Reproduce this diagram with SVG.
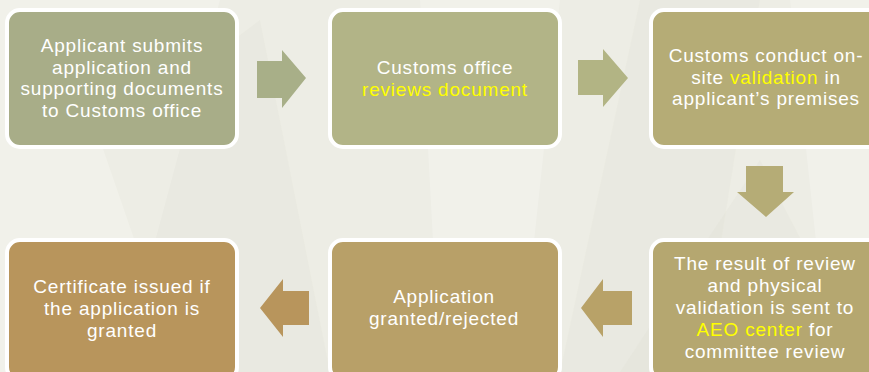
<svg xmlns="http://www.w3.org/2000/svg" width="869" height="372" viewBox="0 0 869 372">
<defs>
<style>
.box{stroke:#FFFFFF;stroke-width:4}
.t{font-family:"Liberation Sans",Arial,sans-serif;font-size:19px;letter-spacing:0.8px;fill:#FFFFFF;text-anchor:middle}
.y{fill:#FFFF00}
.bg{fill:#FFFFFF;opacity:0.22}
.bgd{fill:#D8D8CC;opacity:0.15}
</style>
</defs>
<rect x="0" y="0" width="869" height="372" fill="#EDEDE5"/>
<g id="background">
<polygon class="bg" points="0,0 220,0 120,372 0,372"/>
<polygon class="bgd" points="100,140 260,20 330,372 180,372"/>
<polygon class="bg" points="420,0 560,0 520,372 440,372"/>
<polygon class="bgd" points="640,0 760,0 700,372 560,372"/>
<polygon class="bg" points="790,0 869,0 869,372 830,372"/>
<polygon class="bgd" points="620,372 760,160 869,372"/>
</g>
<g id="connectors">
<polygon id="arrow1" fill="#A8AF88" points="257,61 282,61 282,50 306,78 282,108 282,98 257,98"/>
<polygon id="arrow2" fill="#B2B484" points="578,60 603,60 603,49 628,78 603,107 603,95 578,95"/>
<polygon id="arrow3" fill="#B5AC76" points="746,166 783,166 783,192 794,192 766,217 737,192 746,192"/>
<polygon id="arrow4" fill="#B8A268" points="632,291 603,291 603,279 581,308 603,337 603,325 632,325"/>
<polygon id="arrow5" fill="#B8955C" points="309,291 283,291 283,279 260,308 283,337 283,325 309,325"/>
</g>
<g id="node1">
<rect class="box" x="7" y="10" width="230" height="137" rx="13" fill="#A8AD88"/>
<text class="t"><tspan x="122" y="52">Applicant submits</tspan><tspan x="122" y="73.5">application and</tspan><tspan x="122" y="95">supporting documents</tspan><tspan x="122" y="116.5">to Customs office</tspan></text>
</g>
<g id="node2">
<rect class="box" x="330" y="10" width="230" height="137" rx="13" fill="#B2B487"/>
<text class="t"><tspan x="445" y="74">Customs office</tspan><tspan class="y" x="445" y="96">reviews document</tspan></text>
</g>
<g id="node3">
<rect class="box" x="651" y="10" width="232" height="137" rx="13" fill="#B5AC76"/>
<text class="t"><tspan x="766" y="62">Customs conduct on-</tspan><tspan x="766" y="83.5">site <tspan class="y">validation</tspan> in</tspan><tspan x="766" y="105">applicant’s premises</tspan></text>
</g>
<g id="node4">
<rect class="box" x="651" y="240" width="232" height="140" rx="13" fill="#B5A770"/>
<text class="t"><tspan x="765" y="270">The result of review</tspan><tspan x="765" y="292">and physical</tspan><tspan x="765" y="314">validation is sent to</tspan><tspan x="765" y="336"><tspan class="y">AEO center</tspan> for</tspan><tspan x="765" y="358">committee review</tspan></text>
</g>
<g id="node5">
<rect class="box" x="330" y="240" width="230" height="140" rx="13" fill="#B8A068"/>
<text class="t"><tspan x="444" y="303">Application</tspan><tspan x="444" y="325">granted/rejected</tspan></text>
</g>
<g id="node6">
<rect class="box" x="7" y="240" width="230" height="140" rx="13" fill="#B8955C"/>
<text class="t"><tspan x="122" y="293">Certificate issued if</tspan><tspan x="122" y="315">the application is</tspan><tspan x="122" y="337">granted</tspan></text>
</g>
</svg>
